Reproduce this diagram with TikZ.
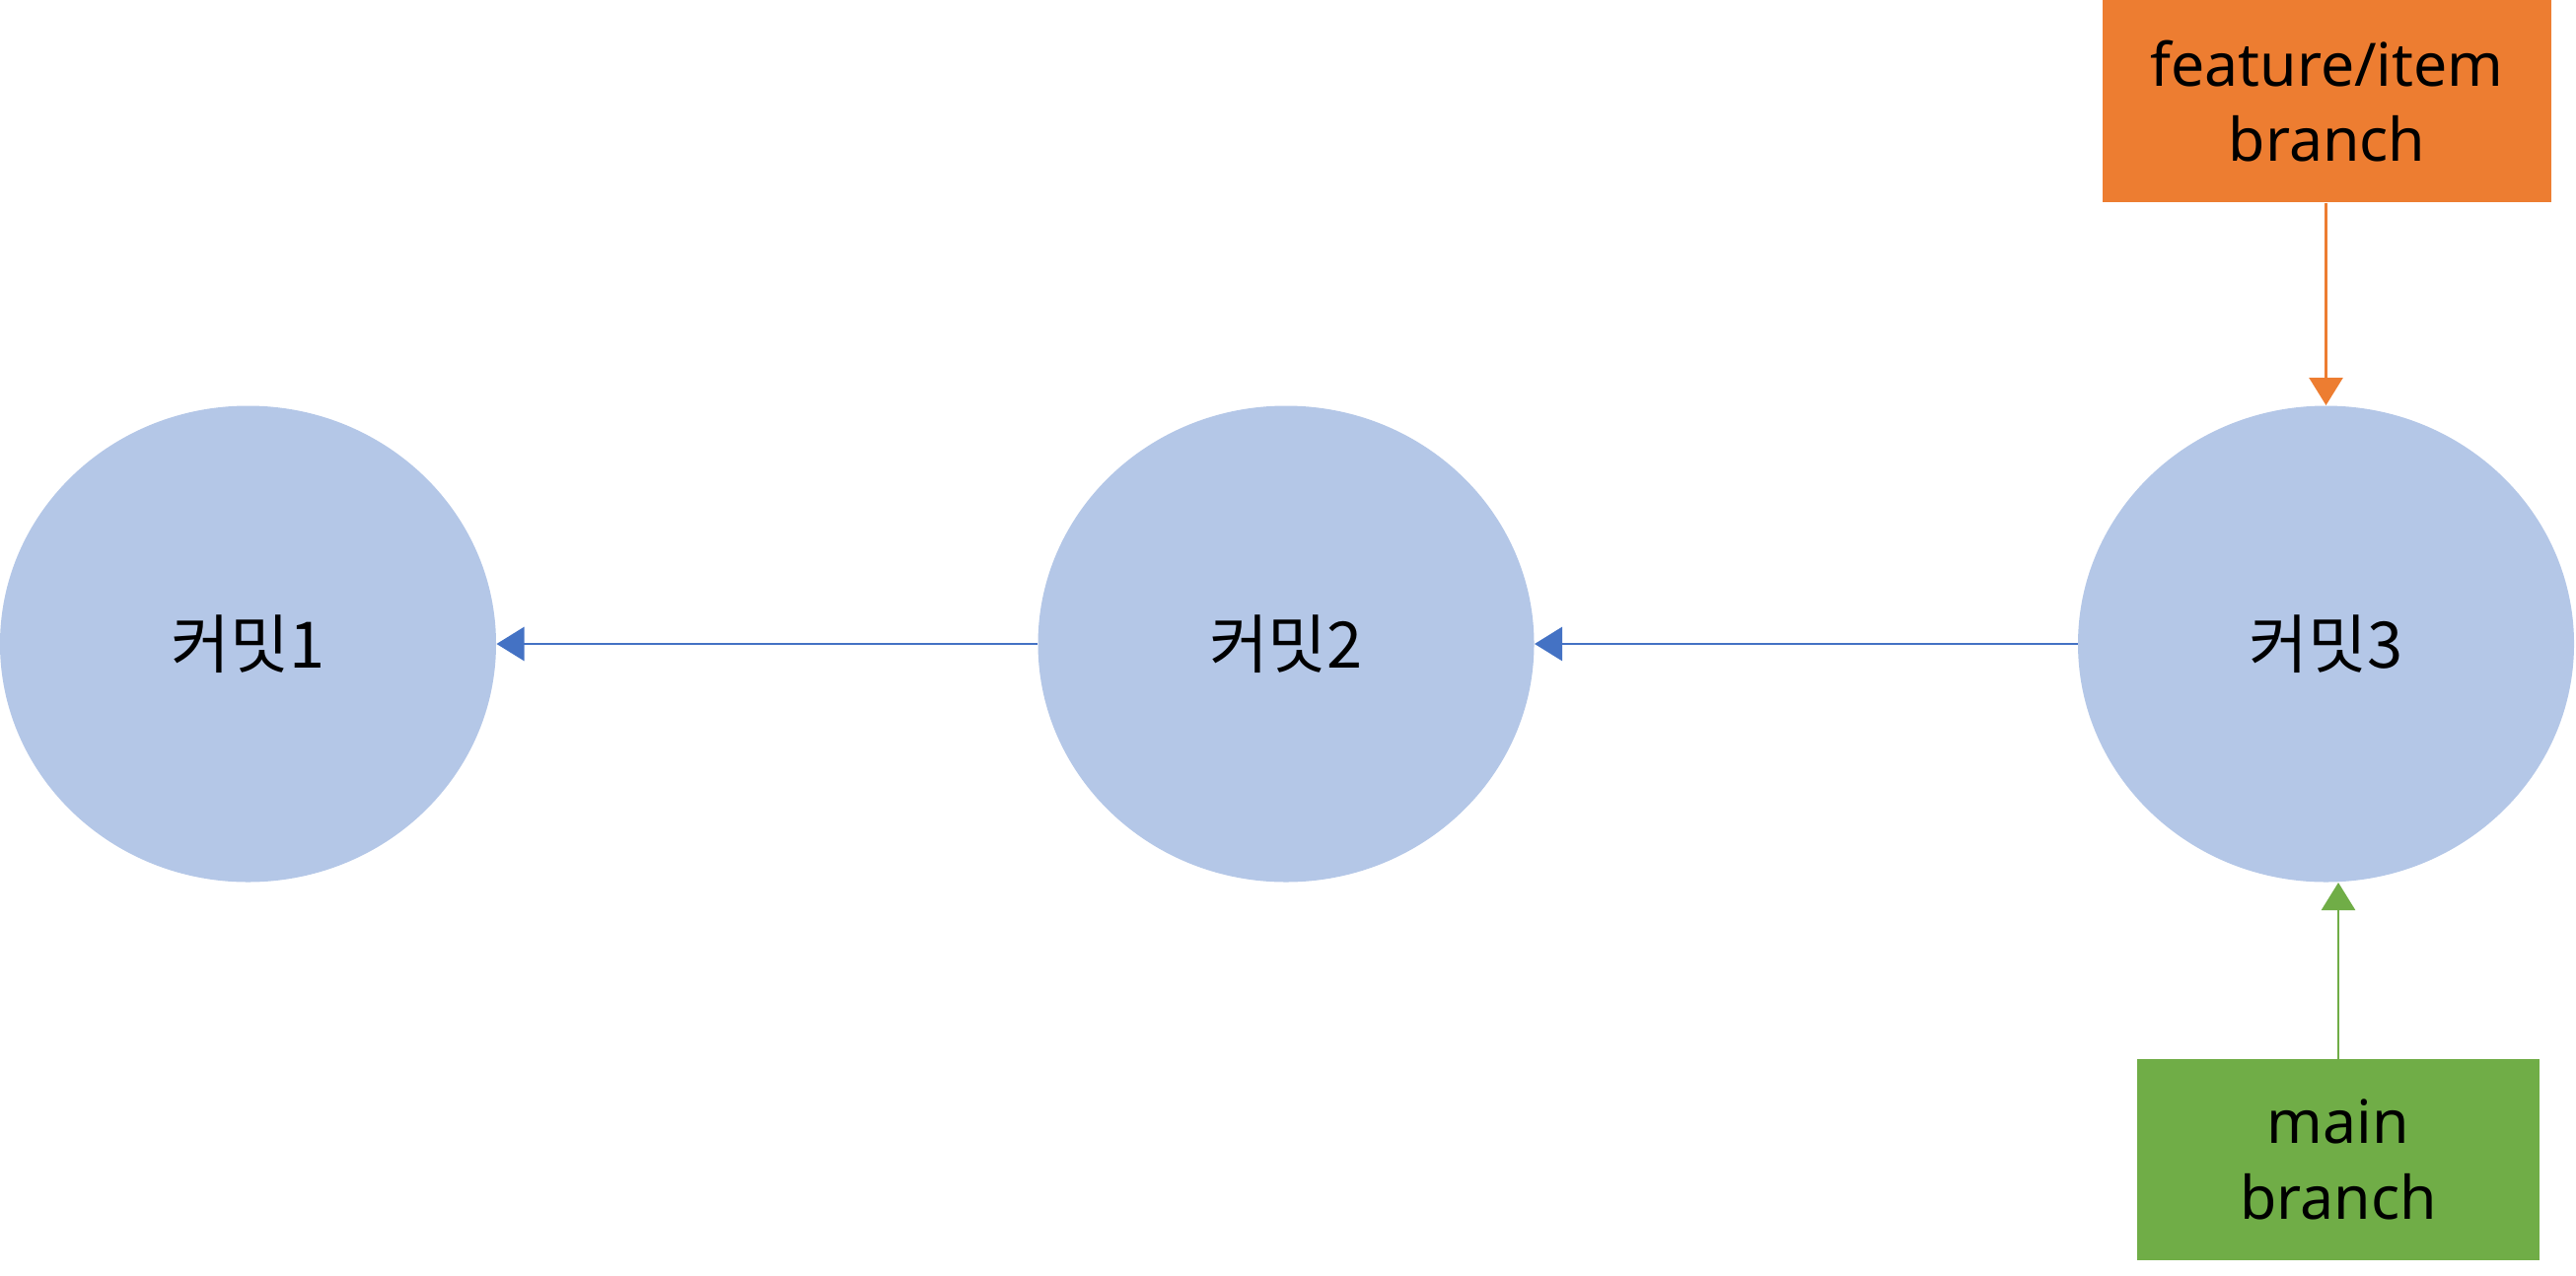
\documentclass[tikz,border=0pt]{standalone}
\usepackage{fontspec}
\setmainfont{Noto Sans}
\newfontfamily\krfont{Noto Sans CJK KR}
\usetikzlibrary{arrows.meta,shapes.geometric}
\definecolor{commitfill}{HTML}{B4C7E7}
\definecolor{linkblue}{HTML}{4472C4}
\definecolor{featorange}{HTML}{ED7D31}
\definecolor{maingreen}{HTML}{70AD47}
\tikzset{
  commit/.style={ellipse, fill=commitfill, draw=none, inner sep=0pt,
    minimum width=201.2pt, minimum height=193.2pt,
    font=\krfont\fontsize{26}{31}\selectfont},
  branchbox/.style={rectangle, draw=none, inner sep=0pt, align=center,
    font=\fontsize{24.3}{30.5}\selectfont},
  link/.style={line width=1.1pt, -{Triangle[length=11.2pt,width=13.6pt]}},
}
\begin{document}
\begin{tikzpicture}[x=0.4pt,y=-0.4pt]
\useasboundingbox (0,0) rectangle (2612,1293);
\node[commit] (c1) at (251.5,653) {커밋1};
\node[commit] (c2) at (1304,653) {커밋2};
\node[commit] (c3) at (2358.5,653) {커밋3};
\node[branchbox, fill=featorange, minimum width=182pt, minimum height=82pt] (feat) at (2359.5,102.5) {feature/item\\branch};
\node[branchbox, fill=maingreen, minimum width=163.2pt, minimum height=81.6pt] (main) at (2371,1176) {main\\branch};
\draw[link, draw=linkblue, fill=linkblue] (c2.west) -- (c1.east);
\draw[link, draw=linkblue, fill=linkblue] (c3.west) -- (c2.east);
\draw[link, draw=featorange, fill=featorange] (c3.north |- feat.south) -- (c3.north);
\draw[link, draw=maingreen, fill=maingreen] (main.north) -- (main.north |- c3.south);
\end{tikzpicture}
\end{document}
